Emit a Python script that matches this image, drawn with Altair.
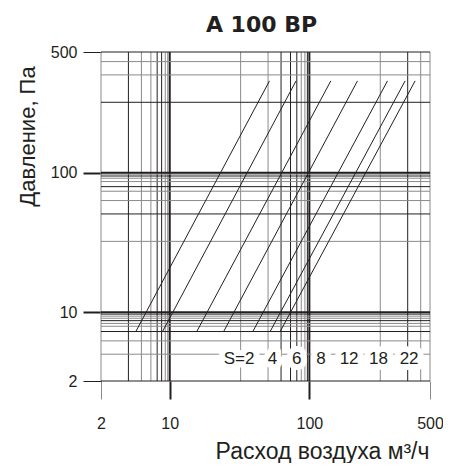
import altair as alt
import pandas as pd

# ---- data ----
# axis extents (edges labelled "2" and "500")
ax_min = 3.22
ax_max = 731.0
tick_values = [3.22, 10, 100, 731]
tick_labels = ["2", "10", "100", "500"]

# vertical grid lines (flow values) and their tone: 0 = gray, 1 = black, 2 = heavy
vgrid_x = [3.22, 5.06, 6.27, 7.33, 8.13, 8.75, 9.29, 9.68, 10,
           32.2, 50.6, 62.7, 73.3, 81.3, 87.5, 92.9, 96.8, 100,
           322, 506, 627, 731]
vgrid_tone = [0, 1, 0, 0, 1, 1, 0, 0, 2,
              0, 0, 1, 1, 1, 0, 0, 1, 2,
              0, 1, 0, 0]

# horizontal grid lines (pressure values)
hgrid_y = [3.22, 5.01, 6.24, 7.28, 7.94, 8.32, 8.71, 9.06, 9.38, 9.70, 10,
           32.2, 50.6, 63.1, 73.6, 79.4, 86.3, 91.2, 94.6, 97.5, 100,
           319, 501, 624, 731]
hgrid_tone = [1, 0, 0, 1, 0, 0, 1, 0, 0, 1, 2,
              0, 1, 0, 0, 1, 0, 0, 1, 0, 2,
              1, 0, 0, 1]

# characteristic lines for each S setting (start and end points)
s_names = ["2", "4", "6", "8", "12", "18", "22"]
flow_start = [5.71, 8.87, 15.6, 24.3, 39.3, 52.3, 61.7]
flow_end = [51.8, 80.3, 142.4, 221.1, 362.7, 485, 571.9]
press_start = 7.26
press_end = 454

# label row
label_text = ["S=2", "4", "6", "8", "12", "18", "22"]
label_x = [31.4, 54.4, 81.3, 121.3, 192.5, 312.8, 518]
label_y = 4.61

INK = "#231f20"
GRAY = "#8a8a8a"
tone_color = {0: GRAY, 1: INK, 2: INK}
tone_width = {0: 1.0, 1: 1.0, 2: 2.0}

vg = pd.DataFrame({"x": vgrid_x, "tone": vgrid_tone})
vg["c"] = vg["tone"].map(tone_color)
vg["w"] = vg["tone"].map(tone_width)
hg = pd.DataFrame({"y": hgrid_y, "tone": hgrid_tone})
hg["c"] = hg["tone"].map(tone_color)
hg["w"] = hg["tone"].map(tone_width)

rows = []
for s, a, b in zip(s_names, flow_start, flow_end):
    rows.append({"S": s, "x": a, "y": press_start, "o": 0})
    rows.append({"S": s, "x": b, "y": press_end, "o": 1})
lines = pd.DataFrame(rows)
labels = pd.DataFrame({"t": label_text, "x": label_x, "y": [label_y] * len(label_text)})

FONT = "Liberation Sans"
xs = alt.Scale(type="log", domain=[ax_min, ax_max], nice=False, zero=False)
ys = alt.Scale(type="log", domain=[ax_min, ax_max], nice=False, zero=False)

heavy_test = "datum.value > 9 && datum.value < 101"
label_expr = "datum.value < 5 ? '2' : (datum.value > 600 ? '500' : (datum.value < 50 ? '10' : '100'))"

xaxis = alt.Axis(
    values=tick_values, labelExpr=label_expr, domain=False, grid=False,
    tickSize=18,
    tickColor={"condition": {"test": heavy_test, "value": INK}, "value": GRAY},
    tickWidth={"condition": {"test": heavy_test, "value": 2.0}, "value": 1},
    labelFont=FONT, labelFontSize=16, labelColor=INK, labelPadding=16,
    labelFlush=False, labelOverlap=False,
    title="Расход воздуха м³/ч", titleFont=FONT, titleFontSize=23,
    titleFontWeight="normal", titleColor=INK, titleX=328, titleY=77,
    titleAlign="right", titleBaseline="alphabetic", titleAngle=0,
)
yaxis = alt.Axis(
    values=tick_values, labelExpr=label_expr, domain=False, grid=False,
    tickSize=18,
    tickColor=INK,
    tickWidth={"condition": {"test": heavy_test, "value": 2.0}, "value": 1},
    labelFont=FONT, labelFontSize=16, labelColor=INK, labelPadding=6,
    labelFlush=False, labelOverlap=False,
    title="Давление, Па", titleFont=FONT, titleFontSize=22,
    titleFontWeight="normal", titleColor=INK, titleX=-74, titleY=84,
    titleAlign="center", titleBaseline="middle", titleAngle=-90,
)

X = lambda: alt.X("x:Q", scale=xs, axis=xaxis)
Y = lambda: alt.Y("y:Q", scale=ys, axis=yaxis)

vlayer = alt.Chart(vg).mark_rule().encode(
    x=X(), color=alt.Color("c:N", scale=None), strokeWidth=alt.StrokeWidth("w:Q", scale=None)
)
hlayer = alt.Chart(hg).mark_rule().encode(
    y=Y(), color=alt.Color("c:N", scale=None), strokeWidth=alt.StrokeWidth("w:Q", scale=None)
)
slayer = alt.Chart(lines).mark_line(color=INK, strokeWidth=1.0).encode(
    x=X(), y=Y(), detail="S:N", order="o:Q"
)
halo = alt.Chart(labels).mark_text(
    font=FONT, fontSize=17, color="white", stroke="white", strokeWidth=12,
    strokeJoin="round", align="center", baseline="middle"
).encode(x=X(), y=Y(), text="t:N")
txt = alt.Chart(labels).mark_text(
    font=FONT, fontSize=17, color=INK, align="center", baseline="middle"
).encode(x=X(), y=Y(), text="t:N")

chart = alt.layer(vlayer, hlayer, slayer, halo, txt).properties(
    width=329, height=329,
    title=alt.TitleParams("A 100 BP", font="DejaVu Sans", fontSize=22, fontWeight="bold",
                          color=INK, anchor="middle", offset=7, dx=-4),
    autosize=alt.AutoSizeParams(type="none"),
    padding={"left": 93, "top": 44, "right": 13, "bottom": 82},
).configure_view(stroke=None)

chart.save("out.html", embed_options={"renderer": "svg", "actions": False})
